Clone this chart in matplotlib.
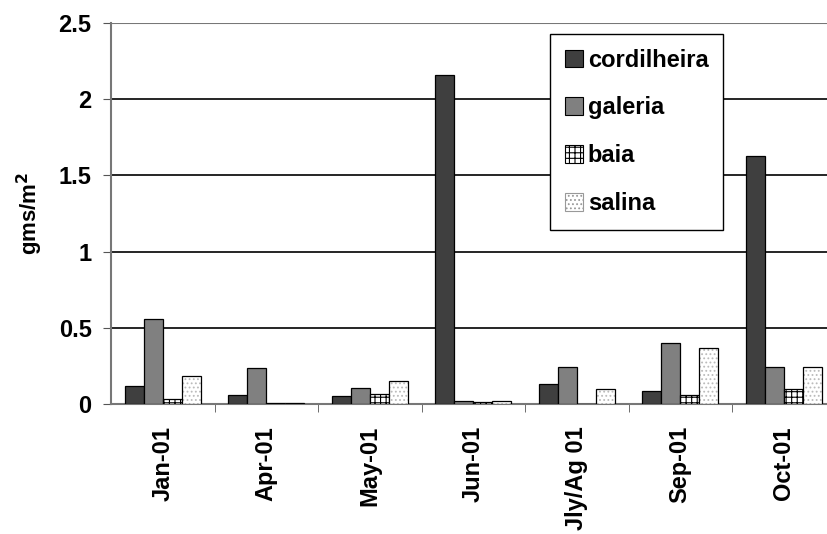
import matplotlib
matplotlib.use("Agg")
import matplotlib.pyplot as plt
import numpy as np
from matplotlib.patches import Patch

plt.rcParams['font.family'] = ['Liberation Sans', 'DejaVu Sans']
plt.rcParams['font.weight'] = 'bold'
plt.rcParams['hatch.linewidth'] = 0.8

categories = ["Jan-01", "Apr-01", "May-01", "Jun-01", "Jly/Ag 01", "Sep-01", "Oct-01"]
series_names = ["cordilheira", "galeria", "baia", "salina"]
cordilheira = [0.12, 0.057, 0.05, 2.16, 0.13, 0.085, 1.63]
galeria = [0.557, 0.234, 0.105, 0.02, 0.242, 0.40, 0.24]
baia = [0.035, 0.005, 0.064, 0.01, 0.0, 0.057, 0.098]
salina = [0.185, 0.005, 0.149, 0.02, 0.096, 0.365, 0.24]
yticks = [0, 0.5, 1, 1.5, 2, 2.5]
ytick_labels = ["0", "0.5", "1", "1.5", "2", "2.5"]

W, H = 827, 534
fig = plt.figure(figsize=(W / 100, H / 100), dpi=100)
ax = fig.add_axes([111 / W, (534 - 404) / H, 724.5 / W, (404 - 23) / H])

x = np.arange(len(categories))
bw = 0.183
offsets = [-1.5 * bw, -0.5 * bw, 0.5 * bw, 1.5 * bw]

ax.bar(x + offsets[0], cordilheira, bw, color='#3f3f3f', edgecolor='black', linewidth=0.9, zorder=3)
ax.bar(x + offsets[1], galeria, bw, color='#808080', edgecolor='black', linewidth=0.9, zorder=3)
ax.bar(x + offsets[2], baia, bw, color='white', edgecolor='black', hatch='+++', linewidth=0.9, zorder=3)
ax.bar(x + offsets[3], salina, bw, color='white', edgecolor='#bbbbbb', hatch='....', linewidth=0, zorder=3)
ax.bar(x + offsets[3], salina, bw, color='none', edgecolor='black', linewidth=0.9, zorder=4)

ax.set_xlim(-0.5, len(categories) - 0.5)
ax.set_ylim(0, 2.5)
ax.set_yticks(yticks)
ax.set_yticklabels(ytick_labels, fontsize=17, fontweight='bold')
ax.set_xticks(x)
ax.set_xticklabels(categories, rotation=90, fontsize=17, fontweight='bold')
ax.tick_params(axis='x', length=0, pad=16)
ax.set_xticks(np.arange(len(categories)) + 0.5, minor=True)
ax.tick_params(axis='x', which='minor', length=6, color='#555555', direction='out')
ax.tick_params(axis='y', length=6, color='#555555', pad=8)

for yv in yticks[1:]:
    ax.axhline(yv, color='black', linewidth=1.2, zorder=1)
ax.axhline(2.5, color='#777777', linewidth=1.5, zorder=2)

for s in ['top', 'right']:
    ax.spines[s].set_visible(False)
ax.spines['left'].set_color('#777777')
ax.spines['left'].set_linewidth(1.5)
ax.spines['bottom'].set_color('#777777')
ax.spines['bottom'].set_linewidth(1.5)

ax.set_ylabel("gms/m$^\\mathbf{2}$", fontsize=16, fontweight='bold', labelpad=10)

handles = [
    Patch(facecolor='#3f3f3f', edgecolor='black', linewidth=0.8),
    Patch(facecolor='#808080', edgecolor='black', linewidth=0.8),
    Patch(facecolor='white', edgecolor='black', hatch='+++', linewidth=0.8),
    Patch(facecolor='white', edgecolor='#999999', hatch='....', linewidth=0.8),
]
leg = fig.legend(handles, series_names, loc='upper left',
                 bbox_to_anchor=(550 / W, 1 - 34 / H), bbox_transform=fig.transFigure,
                 fancybox=False, frameon=True, edgecolor='black', framealpha=1,
                 prop={'size': 17, 'weight': 'bold'}, labelspacing=1.05,
                 handlelength=0.78, handleheight=0.78, handletextpad=0.2,
                 borderpad=0.62, borderaxespad=0)
leg.get_frame().set_linewidth(1.0)
leg.set_zorder(10)

fig.savefig("out.png", dpi=100)
